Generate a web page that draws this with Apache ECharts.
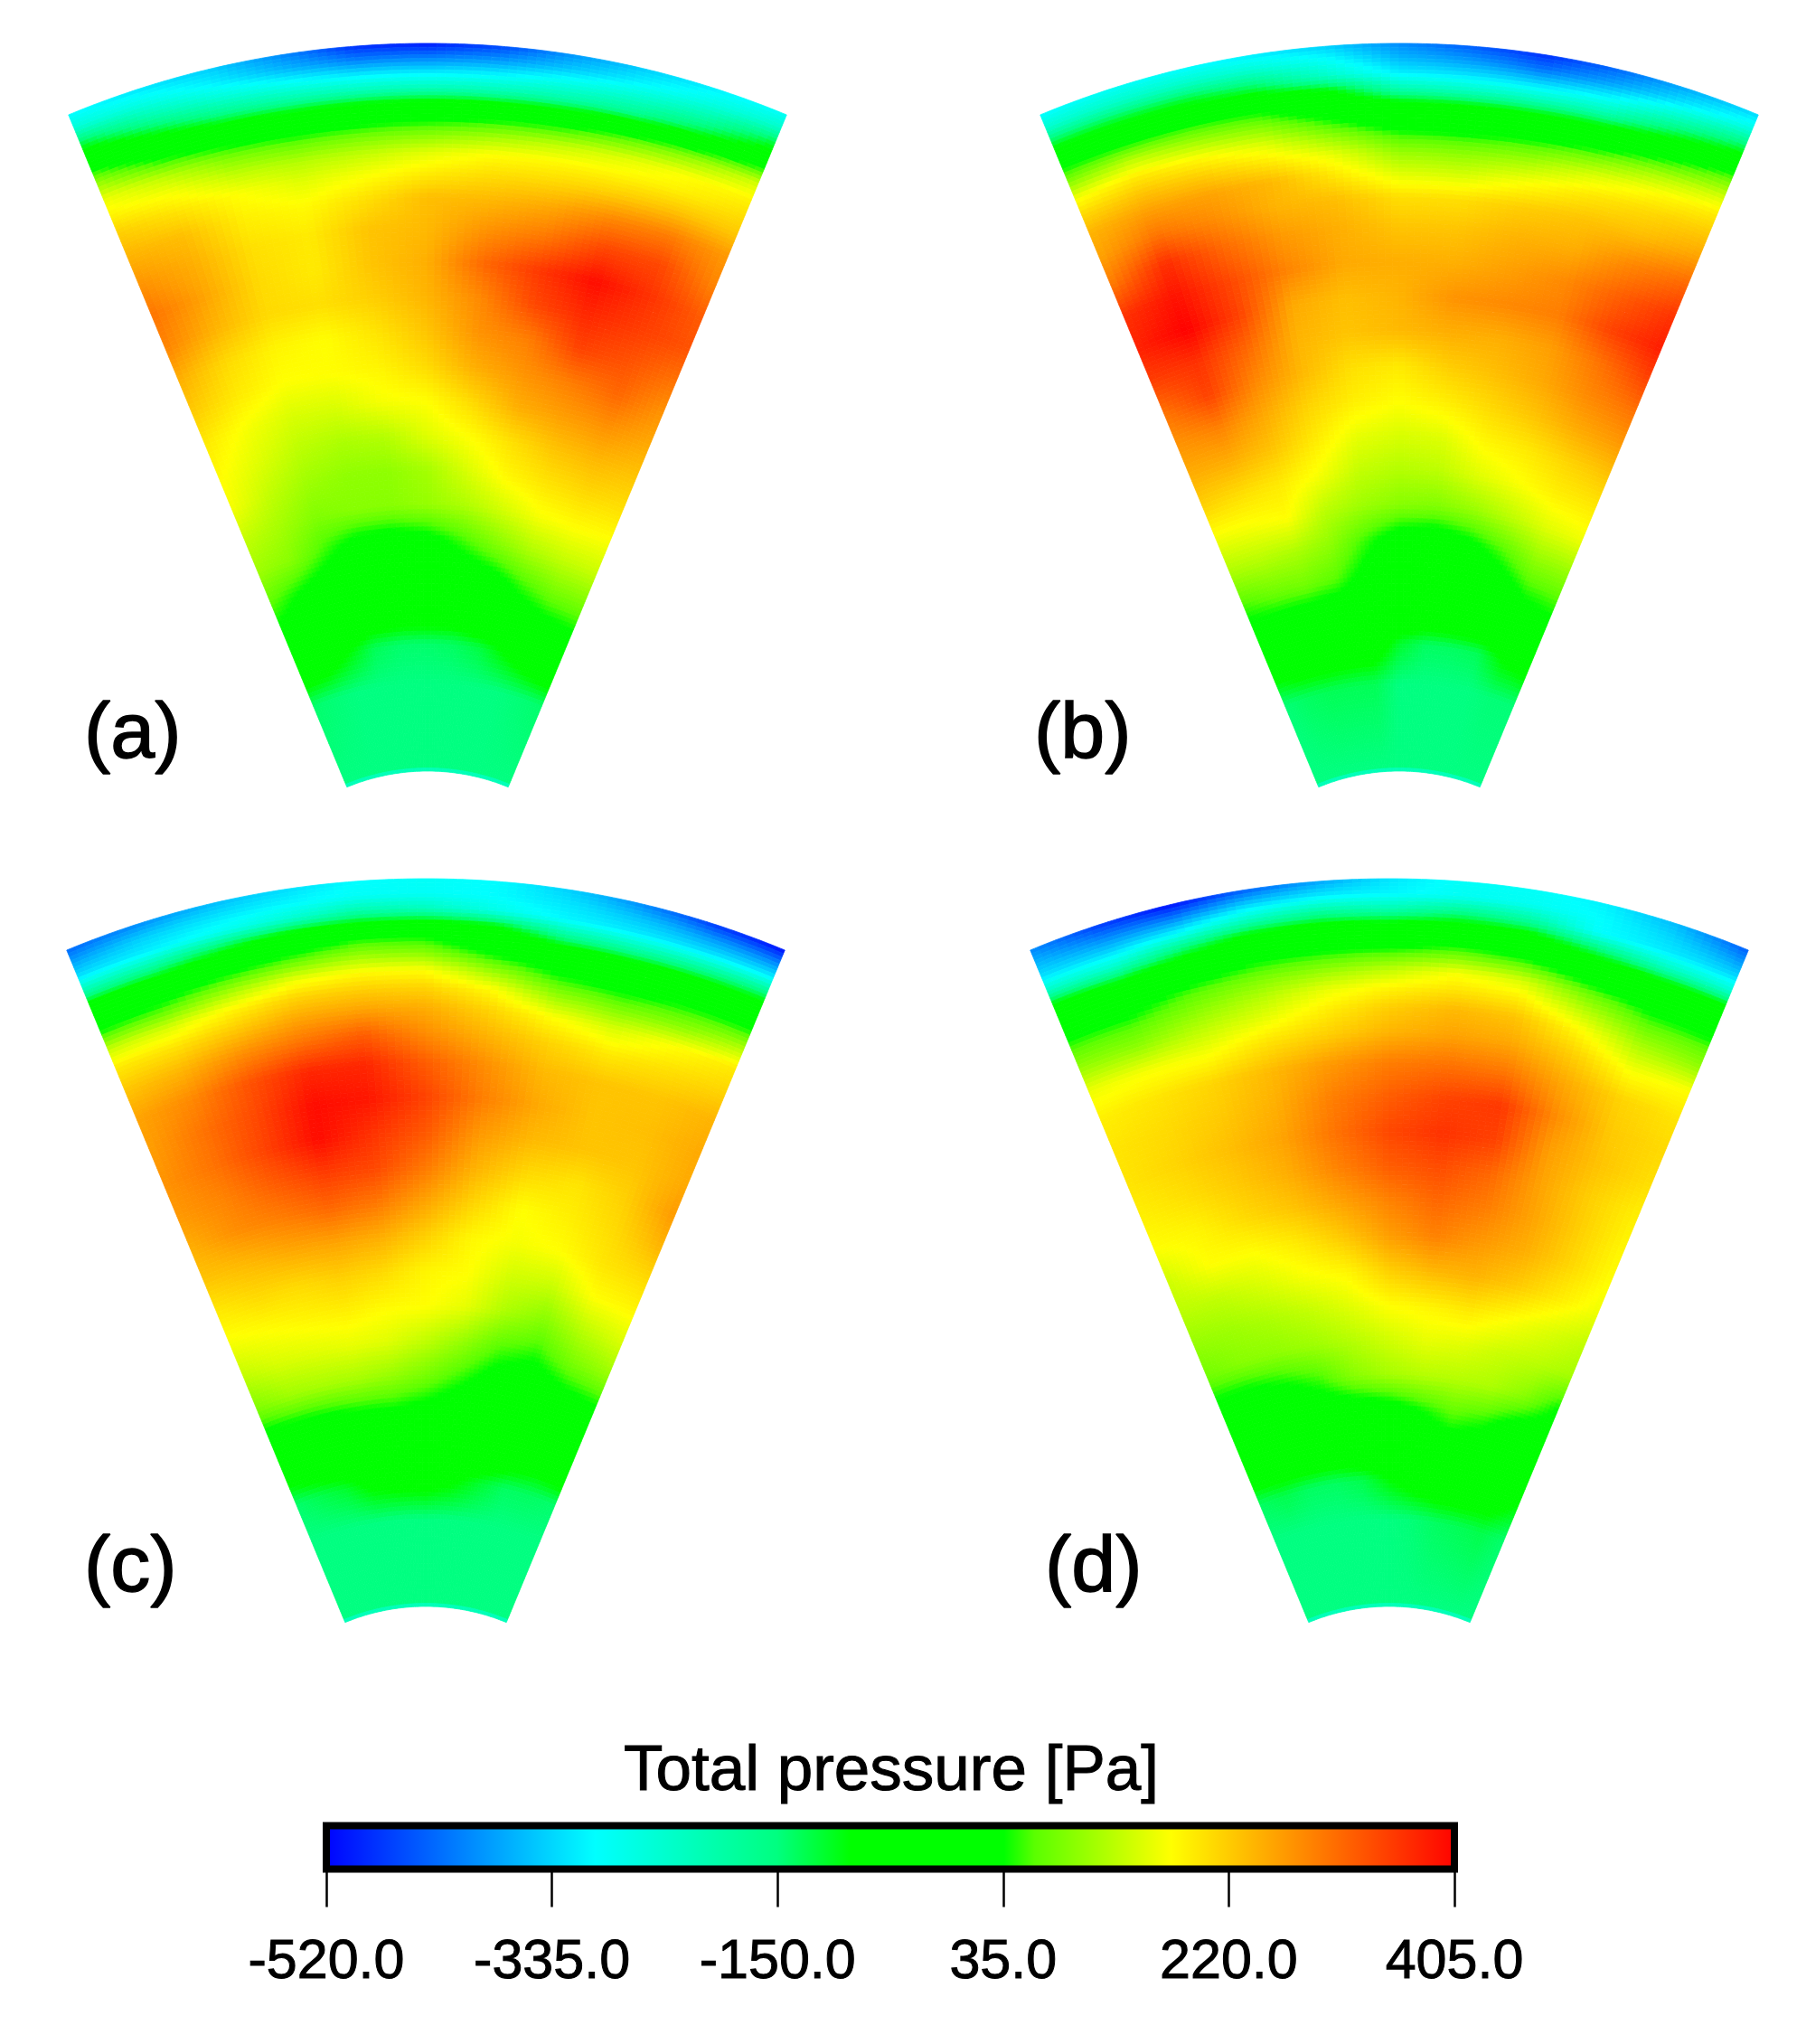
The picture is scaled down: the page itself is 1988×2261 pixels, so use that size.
<!DOCTYPE html>
<html><head><meta charset="utf-8">
<style>html,body{margin:0;padding:0;background:#fff}#c{width:1988px;height:2261px}</style>
<script src="https://cdn.jsdelivr.net/npm/echarts@6/dist/echarts.min.js"></script>
</head><body><div id="c"></div>
<script>
// Nodes of the sector mesh: angle across the wedge (deg), radius as a fraction of the outer radius
const angleNodes = [-22.5,-18,-13.5,-9,-4.5,0,4.5,9,13.5,18,22.5];
const radialNodes = [1.000,0.984,0.968,0.952,0.937,0.921,0.902,0.884,0.863,0.836,0.804,0.767,0.730,0.693,0.656,0.619,0.582,0.545,0.508,0.471,0.434,0.397,0.360,0.318,0.2278,0.2245];

const panelA = [
[-300,-320,-340,-400,-480,-500,-460,-390,-340,-310,-290],
[-250,-270,-310,-360,-405,-405,-385,-345,-305,-270,-235],
[-130,-200,-250,-285,-310,-310,-300,-270,-240,-200,-120],
[-40,-110,-170,-200,-215,-215,-210,-195,-170,-120,-50],
[30,-30,-70,-85,-80,-75,-70,-55,-30,0,40],
[100,35,10,0,10,20,30,40,70,100,140],
[160,125,85,70,80,90,110,130,150,170,180],
[180,165,130,120,130,150,170,175,178,185,200],
[215,195,170,150,165,185,200,205,215,225,220],
[240,230,185,175,200,230,235,250,280,290,265],
[270,245,200,190,225,235,270,295,340,340,280],
[300,255,205,190,225,245,310,355,395,360,320],
[285,240,205,200,215,240,280,340,370,350,330],
[245,205,180,172,195,225,270,290,345,330,300],
[220,190,170,172,180,205,245,270,290,310,270],
[190,165,145,145,165,172,205,245,260,270,250],
[175,150,125,115,120,150,172,200,225,235,225],
[165,130,105,95,95,110,145,178,195,205,200],
[130,110,85,90,90,100,115,140,165,172,170],
[105,90,50,15,10,20,50,85,115,130,135],
[60,30,5,0,0,0,0,15,50,75,80],
[15,0,-10,-35,-35,-35,-35,-5,0,15,25],
[-30,-50,-90,-130,-140,-140,-135,-120,-85,-50,-25],
[-140,-145,-150,-150,-150,-150,-150,-150,-150,-145,-140],
[-150,-150,-150,-150,-150,-150,-150,-150,-150,-150,-150],
[-280,-280,-280,-280,-280,-280,-280,-280,-280,-280,-280]
];
const panelB = [
[-300,-290,-300,-315,-340,-400,-440,-480,-430,-370,-330],
[-240,-235,-235,-250,-290,-360,-385,-420,-380,-320,-270],
[-125,-120,-120,-150,-235,-310,-320,-330,-300,-230,-160],
[-40,-50,-50,-55,-85,-210,-225,-225,-210,-130,-70],
[35,40,45,35,-25,-85,-95,-95,-85,-45,15],
[90,125,105,90,35,-20,-30,-30,-10,35,85],
[165,190,175,150,100,50,45,55,80,120,150],
[205,225,215,190,155,100,95,110,145,171,190],
[240,260,255,235,190,145,140,165,190,205,220],
[255,300,275,240,230,200,200,215,225,230,255],
[290,365,310,265,245,225,225,240,245,280,310],
[360,390,340,285,250,245,245,260,280,320,360],
[375,405,345,250,230,240,270,280,290,345,380],
[350,360,310,240,225,235,245,245,260,300,345],
[300,345,280,235,200,190,215,230,250,280,300],
[270,285,250,210,185,172,185,205,225,250,265],
[245,245,225,190,155,145,150,178,190,210,225],
[210,200,190,165,130,120,125,150,168,185,190],
[160,165,172,125,105,90,85,100,125,150,160],
[115,120,115,95,50,10,0,20,55,95,100],
[55,70,75,60,20,0,0,0,0,40,50],
[10,5,0,0,-10,-20,-20,-15,-10,0,5],
[-60,-40,-40,-45,-50,-110,-135,-135,-130,-85,-70],
[-145,-135,-130,-130,-130,-150,-150,-150,-150,-145,-145],
[-150,-150,-150,-150,-150,-150,-150,-150,-150,-150,-150],
[-280,-280,-280,-280,-280,-280,-280,-280,-280,-280,-280]
];
const panelC = [
[-430,-400,-360,-330,-300,-290,-300,-340,-400,-470,-510],
[-375,-340,-320,-305,-290,-290,-300,-320,-350,-385,-405],
[-320,-310,-285,-250,-200,-220,-270,-305,-315,-320,-310],
[-203,-190,-130,-75,-60,-65,-85,-190,-203,-190,-170],
[-75,-70,-35,0,40,35,-20,-70,-80,-70,-60],
[-25,0,35,70,100,90,35,0,-15,-10,-20],
[50,65,115,160,175,171,110,50,35,50,55],
[135,145,180,210,215,210,175,105,85,95,125],
[190,195,220,250,255,245,210,170,145,171,190],
[225,240,275,300,320,275,240,210,190,200,210],
[255,280,330,370,370,320,275,235,225,225,240],
[260,300,340,395,385,345,290,250,225,230,250],
[270,300,345,395,360,325,265,235,225,225,250],
[265,285,320,350,340,295,240,205,195,215,265],
[245,275,290,310,295,255,210,172,185,205,240],
[225,235,250,255,245,215,178,165,172,195,205],
[190,205,205,215,205,180,172,140,135,172,178],
[165,172,180,185,175,172,155,115,90,125,145],
[130,145,150,155,150,130,100,60,45,80,100],
[85,105,110,110,100,80,50,15,0,20,30],
[10,10,15,25,30,20,0,-5,-15,-5,5],
[-50,-30,-20,-15,-15,-15,-20,-20,-40,-60,-30],
[-140,-125,-110,-75,-65,-60,-80,-110,-135,-135,-140],
[-150,-150,-150,-150,-150,-150,-150,-150,-150,-150,-150],
[-150,-150,-150,-150,-150,-150,-150,-150,-150,-150,-150],
[-280,-280,-280,-280,-280,-280,-280,-280,-280,-280,-280]
];
const panelD = [
[-400,-470,-510,-440,-380,-320,-290,-290,-310,-360,-440],
[-360,-400,-405,-340,-315,-305,-285,-285,-300,-335,-385],
[-320,-330,-298,-230,-190,-210,-170,-190,-298,-315,-330],
[-225,-240,-155,-85,-70,-80,-60,-75,-155,-225,-245],
[-85,-105,-55,-25,-15,-25,10,-15,-55,-85,-95],
[-30,-45,0,35,45,55,75,55,0,-40,-40],
[20,20,60,85,105,130,165,145,75,30,20],
[60,60,90,120,155,178,195,185,125,70,65],
[100,95,125,150,185,215,235,225,175,115,100],
[160,165,165,195,215,240,255,250,215,165,172],
[185,195,210,235,265,290,300,295,250,210,195],
[195,205,220,245,290,320,345,355,275,220,205],
[195,210,230,255,300,340,360,345,260,225,200],
[185,200,220,245,285,320,335,310,255,215,185],
[172,180,205,225,255,285,310,290,255,215,178],
[140,172,172,190,220,260,285,265,245,210,172],
[125,130,145,165,178,215,235,240,220,190,160],
[100,105,115,130,150,172,180,190,172,150,130],
[75,90,95,105,120,140,155,150,135,125,110],
[20,15,30,50,90,110,120,120,115,90,35],
[-10,-10,-5,0,0,10,35,60,45,10,0],
[-40,-30,-25,-30,-15,-10,0,5,0,-5,-10],
[-135,-125,-135,-135,-125,-90,-60,-40,-40,-50,-90],
[-150,-150,-150,-150,-150,-150,-145,-135,-130,-125,-140],
[-150,-150,-150,-150,-150,-150,-150,-150,-150,-150,-150],
[-280,-280,-280,-280,-280,-280,-280,-280,-280,-280,-280]
];

const panelLabels = ['(a)','(b)','(c)','(d)'];
const colorbarTitle = 'Total pressure [Pa]';
const colorbarTicks = [-520,-335,-150,35,220,405];
const stopValues = [-520,-298,-150,-90,35,60,171,405];
const stopColors = [[0,0,255],[0,255,255],[0,255,128],[0,255,0],[0,255,0],[90,255,0],[255,255,0],[255,0,0]];

const vMin = colorbarTicks[0], vMax = colorbarTicks[colorbarTicks.length-1];
function colorAt(v){
  v = Math.max(vMin, Math.min(vMax, v));
  let k = 0;
  while (k < stopValues.length-2 && v > stopValues[k+1]) k++;
  const t = (v-stopValues[k])/(stopValues[k+1]-stopValues[k]);
  const a = stopColors[k], b = stopColors[k+1];
  return 'rgb('+Math.round(a[0]+(b[0]-a[0])*t)+','+Math.round(a[1]+(b[1]-a[1])*t)+','+Math.round(a[2]+(b[2]-a[2])*t)+')';
}
function cellRenderer(m){
  const nA = 8, stepPx = 5;
  const nRows = radialNodes.length, nCols = angleNodes.length;
  return function(params, api){
    const cs = params.coordSys;
    const idx = params.dataIndex, i = Math.floor(idx/nCols), j = idx%nCols;
    if (i >= nRows-1 || j >= nCols-1) return null;
    const p00 = api.coord([radialNodes[i], angleNodes[j]]);
    const p10 = api.coord([radialNodes[i+1], angleNodes[j]]);
    const p01 = api.coord([radialNodes[i], angleNodes[j+1]]);
    const r0 = p00[2], r1 = p10[2];
    const a0 = -p00[3], a1 = -p01[3];
    const nR = Math.max(1, Math.ceil((r0-r1)/stepPx));
    const kids = [];
    for (let s = 0; s < nR; s++){
      for (let t = 0; t < nA; t++){
        const u = (s+0.5)/nR, w = (t+0.5)/nA;
        const val = (1-u)*((1-w)*m[i][j]+w*m[i][j+1]) + u*((1-w)*m[i+1][j]+w*m[i+1][j+1]);
        const col = colorAt(val);
        kids.push({type:'sector', silent:true,
          shape:{cx:cs.cx, cy:cs.cy, r:r0+(r1-r0)*s/nR, r0:r0+(r1-r0)*(s+1)/nR,
                 startAngle:a0+(a1-a0)*t/nA, endAngle:a0+(a1-a0)*(t+1)/nA, clockwise:true},
          style:{fill:col, stroke:col, lineWidth:0.8}});
      }
    }
    return {type:'group', silent:true, children:kids};
  };
}
const panels = [panelA,panelB,panelC,panelD];
const centers = [[473,1086],[1548,1086],[471,2010],[1537,2010]];
const labelPos = [[93,770],[1144,770],[93,1692],[1156,1692]];
const FONT = '"Liberation Sans", Arial, sans-serif';

const series = panels.map((m,k)=>{
  const data = [];
  radialNodes.forEach((r,i)=>angleNodes.forEach((a,j)=>data.push([r,a,m[i][j]])));
  return {type:'custom', coordinateSystem:'polar', polarIndex:k, data, clip:false, silent:true,
          animation:false, progressive:0, encode:{radius:0, angle:1}, renderItem:cellRenderer(m)};
});
series.push({type:'custom', coordinateSystem:'cartesian2d', xAxisIndex:0, yAxisIndex:0, silent:true, animation:false, z:5,
  data:[[vMin,vMax]], encode:{x:[0,1]},
  renderItem:function(params, api){
    const a = api.coord([api.value(0),0]), b = api.coord([api.value(1),1]);
    const colorStops = stopValues.map((v,i)=>({offset:(v-vMin)/(vMax-vMin), color:'rgb('+stopColors[i].join(',')+')'}));
    return {type:'rect', shape:{x:a[0],y:b[1],width:b[0]-a[0],height:a[1]-b[1]},
      style:{fill:new echarts.graphic.LinearGradient(0,0,1,0,colorStops), stroke:'#000', lineWidth:8}};
  }});

const titles = panelLabels.map((t,k)=>({text:t,left:labelPos[k][0],top:labelPos[k][1],padding:0,
  textStyle:{fontFamily:FONT,fontSize:88,fontWeight:'normal',color:'#000',textBorderColor:'#000',textBorderWidth:1.5}}));
titles.push({text:colorbarTitle,left:986,top:1925,textAlign:'center',padding:0,
  textStyle:{fontFamily:FONT,fontSize:71,fontWeight:'normal',color:'#000',textBorderColor:'#000',textBorderWidth:1}});

const chart = echarts.init(document.getElementById('c'),null,{renderer:'canvas',width:1988,height:2261});
chart.setOption({
  animation:false, backgroundColor:'#fff',
  title:titles,
  polar:centers.map(c=>({center:c, radius:[0,1038]})),
  angleAxis:centers.map((c,k)=>({polarIndex:k,type:'value',min:-180,max:180,startAngle:270,show:false,clockwise:true})),
  radiusAxis:centers.map((c,k)=>({polarIndex:k,type:'value',min:0,max:1,show:false})),
  grid:[{left:361,width:1248,top:2019.5,height:48,containLabel:false}],
  xAxis:[{type:'value',min:vMin,max:vMax,gridIndex:0,position:'bottom',
    axisLine:{show:false},splitLine:{show:false},
    axisTick:{show:true,length:42,inside:false,customValues:colorbarTicks,lineStyle:{color:'#000',width:2.5}},
    axisLabel:{show:true,customValues:colorbarTicks,margin:73,hideOverlap:false,fontFamily:FONT,fontSize:61,color:'#000',
      textBorderColor:'#000',textBorderWidth:1,formatter:v=>Number(v).toFixed(1)}}],
  yAxis:[{type:'value',min:0,max:1,gridIndex:0,show:false}],
  series
});
</script></body></html>
